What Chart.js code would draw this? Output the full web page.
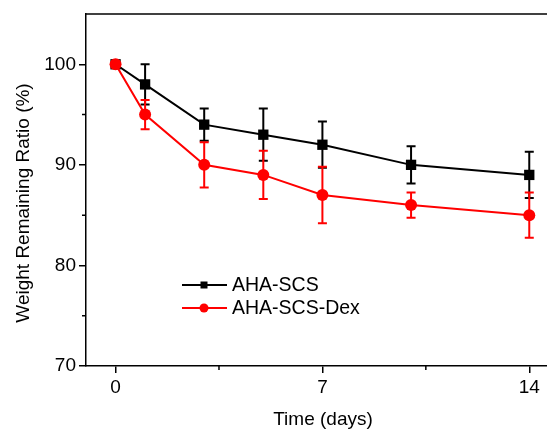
<!DOCTYPE html>
<html>
<head>
<meta charset="utf-8">
<script src="https://cdn.jsdelivr.net/npm/chart.js@4/dist/chart.umd.min.js"></script>
<style>
html, body { margin: 0; padding: 0; background: #fff; }
#wrap { width: 547px; height: 429px; position: relative; }
</style>
</head>
<body>
<div id="wrap"><canvas id="chart" width="547" height="429"></canvas></div>
<script>
// data
var days = [0, 1, 3, 5, 7, 10, 14];
var scsValues = [100, 98, 94, 93, 92, 90, 89];
var scsErrors = [0, 2.0, 1.6, 2.6, 2.3, 1.85, 2.3];
var dexValues = [100, 95, 90, 89, 87, 86, 85];
var dexErrors = [0, 1.45, 2.25, 2.4, 2.8, 1.25, 2.25];
var xTicks = [0, 3.5, 7, 10.5, 14];
var yTicks = [70, 75, 80, 85, 90, 95, 100];
var seriesNames = ["AHA-SCS", "AHA-SCS-Dex"];
var xTitle = "Time (days)";
var yTitle = "Weight Remaining Ratio (%)";

var fontFamily = "'Liberation Sans', Arial, sans-serif";
var fontSize = 19;

function toPoints(values){
  return days.map(function(d, i){ return {x: d, y: values[i]}; });
}

// error bars, drawn under each dataset's markers
var errorBarPlugin = {
  id: "errorBars",
  beforeDatasetDraw: function(chart, args){
    var ds = chart.data.datasets[args.index];
    if(!ds.errors) return;
    var ctx = chart.ctx;
    var xs = chart.scales.x, ys = chart.scales.y;
    ctx.save();
    ctx.strokeStyle = ds.borderColor;
    ctx.lineWidth = 2;
    ds.data.forEach(function(p, i){
      var e = ds.errors[i];
      if(!e) return;
      var px = xs.getPixelForValue(p.x);
      var top = ys.getPixelForValue(p.y + e);
      var bot = ys.getPixelForValue(p.y - e);
      ctx.beginPath();
      ctx.moveTo(px, top); ctx.lineTo(px, bot);
      ctx.moveTo(px - 4.5, top); ctx.lineTo(px + 4.5, top);
      ctx.moveTo(px - 4.5, bot); ctx.lineTo(px + 4.5, bot);
      ctx.stroke();
    });
    ctx.restore();
  }
};

// frame top line, minor ticks, axis titles and the legend
var decorPlugin = {
  id: "decor",
  afterDraw: function(chart){
    var ctx = chart.ctx;
    var area = chart.chartArea;
    var xs = chart.scales.x, ys = chart.scales.y;
    ctx.save();
    ctx.strokeStyle = "#000";
    ctx.lineWidth = 1.5;

    ctx.beginPath();
    ctx.moveTo(area.left - 0.75, area.top);
    ctx.lineTo(area.right, area.top);
    ctx.stroke();

    ctx.beginPath();
    xTicks.forEach(function(v){
      if(v % 7 === 0) return;
      var px = xs.getPixelForValue(v);
      ctx.moveTo(px, area.bottom);
      ctx.lineTo(px, area.bottom + 4);
    });
    yTicks.forEach(function(v){
      if(v % 10 === 0) return;
      var py = ys.getPixelForValue(v);
      ctx.moveTo(area.left - 4, py);
      ctx.lineTo(area.left, py);
    });
    ctx.stroke();

    ctx.fillStyle = "#000";
    ctx.font = fontSize + "px " + fontFamily;
    ctx.textAlign = "center";
    ctx.textBaseline = "alphabetic";
    ctx.fillText(xTitle, 323, 425);

    ctx.save();
    ctx.translate(24, 203);
    ctx.rotate(-Math.PI / 2);
    ctx.textBaseline = "middle";
    ctx.fillText(yTitle, 0, 0);
    ctx.restore();

    // legend
    var rows = [285, 308];
    ctx.font = "19.5px " + fontFamily;
    chart.data.datasets.forEach(function(ds, i){
      var y = rows[i];
      ctx.strokeStyle = ds.borderColor;
      ctx.fillStyle = ds.borderColor;
      ctx.lineWidth = 2;
      ctx.beginPath();
      ctx.moveTo(182, y);
      ctx.lineTo(227, y);
      ctx.stroke();
      ctx.beginPath();
      if(ds.pointStyle === "rect"){
        ctx.rect(200.5, y - 3.5, 7, 7);
      }else{
        ctx.arc(204, y, 4.5, 0, Math.PI * 2);
      }
      ctx.fill();
      ctx.fillStyle = "#000";
      ctx.textAlign = "left";
      ctx.textBaseline = "middle";
      ctx.fillText(ds.label, 232, y + 1);
    });
    ctx.restore();
  }
};

new Chart(document.getElementById("chart"), {
  type: "line",
  data: {
    datasets: [
      {
        label: seriesNames[0],
        data: toPoints(scsValues),
        errors: scsErrors,
        borderColor: "#000000",
        backgroundColor: "#000000",
        borderWidth: 2,
        pointStyle: "rect",
        pointRadius: 7.3,
        pointBorderWidth: 0,
        tension: 0,
        order: 1
      },
      {
        label: seriesNames[1],
        data: toPoints(dexValues),
        errors: dexErrors,
        borderColor: "#ff0000",
        backgroundColor: "#ff0000",
        borderWidth: 2,
        pointStyle: "circle",
        pointRadius: 6,
        pointBorderWidth: 0,
        tension: 0,
        order: 0
      }
    ]
  },
  options: {
    responsive: false,
    animation: false,
    devicePixelRatio: 1,
    layout: { autoPadding: false, padding: { top: 14, right: 0, left: 0, bottom: 0 } },
    plugins: {
      legend: { display: false },
      tooltip: { enabled: false }
    },
    scales: {
      x: {
        type: "linear",
        min: -1,
        max: 14.6,
        afterBuildTicks: function(scale){
          scale.ticks = xTicks.map(function(v){ return {value: v}; });
        },
        afterFit: function(scale){
          scale.height = 63;
          scale.paddingLeft = 0;
          scale.paddingRight = 0;
        },
        ticks: {
          autoSkip: false,
          maxRotation: 0,
          padding: 3,
          color: "#000",
          font: { family: fontFamily, size: fontSize },
          callback: function(v){ return v % 7 === 0 ? String(v) : ""; }
        },
        grid: {
          drawOnChartArea: false,
          tickLength: 7,
          lineWidth: 1.5,
          tickColor: function(c){ return c.tick && c.tick.value % 7 === 0 ? "#000" : "rgba(0,0,0,0)"; }
        },
        border: { color: "#000", width: 1.5 }
      },
      y: {
        min: 70,
        max: 105,
        afterBuildTicks: function(scale){
          scale.ticks = yTicks.map(function(v){ return {value: v}; });
        },
        afterFit: function(scale){
          scale.width = 86;
          scale.paddingTop = 0;
          scale.paddingBottom = 0;
        },
        ticks: {
          autoSkip: false,
          padding: 3,
          color: "#000",
          font: { family: fontFamily, size: fontSize },
          callback: function(v){ return v % 10 === 0 ? String(v) : ""; }
        },
        grid: {
          drawOnChartArea: false,
          tickLength: 7,
          lineWidth: 1.5,
          tickColor: function(c){ return c.tick && c.tick.value % 10 === 0 ? "#000" : "rgba(0,0,0,0)"; }
        },
        border: { color: "#000", width: 1.5 }
      }
    }
  },
  plugins: [errorBarPlugin, decorPlugin]
});
</script>
</body>
</html>
